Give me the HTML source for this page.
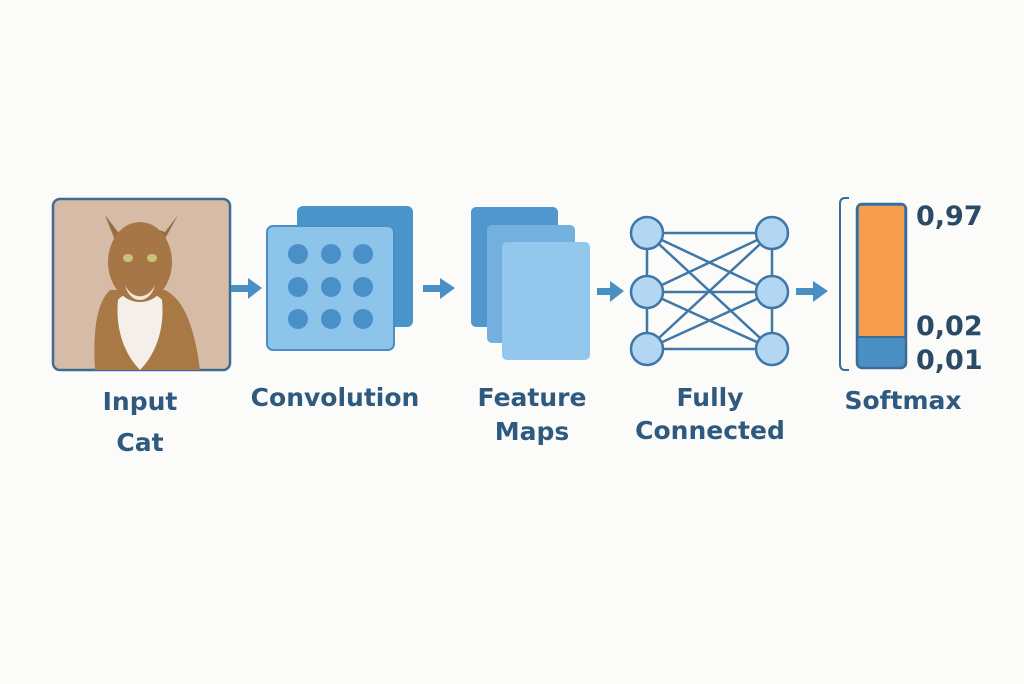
<!DOCTYPE html>
<html><head><style>
html,body{margin:0;padding:0;background:#fbfbf9;}
body{width:1024px;height:684px;position:relative;overflow:hidden;font-family:"DejaVu Sans","Liberation Sans",sans-serif;}
.l{position:absolute;color:#2f5a80;font-size:25px;font-weight:bold;text-align:center;line-height:34px;}
.n{position:absolute;color:#2b4a68;font-size:27px;font-weight:bold;}
</style></head><body>
<svg width="1024" height="684" style="position:absolute;left:0;top:0">
<rect x="53" y="199" width="177" height="171" rx="7" fill="#d6bca7" stroke="#3d6b94" stroke-width="2.5"/>
<g>
<path d="M95,370 C92,320 100,300 110,290 L120,290 L165,290 C185,300 195,330 200,370 Z" fill="#a87845"/>
<path d="M118,300 C125,290 155,290 162,300 C165,330 155,355 140,370 C125,355 115,330 118,300Z" fill="#f4efe8"/>
<path d="M105,215 L118,248 L160,248 L178,215 L165,232 C150,226 132,226 118,232 Z" fill="#9a6c40"/>
<ellipse cx="140" cy="262" rx="32" ry="40" fill="#a67646"/>
<path d="M125,285 C132,300 148,300 155,285 C150,305 130,305 125,285Z" fill="#efe7dc"/>
<ellipse cx="128" cy="258" rx="5" ry="4" fill="#c8c27a"/>
<ellipse cx="152" cy="258" rx="5" ry="4" fill="#c8c27a"/>
<path d="M137,270 L143,270 L140,274Z" fill="#b86a5a"/>
</g>
<g fill="#4a8fc4">
<rect x="231" y="285" width="18" height="7"/><polygon points="248,278 262,288 248,299"/>
<rect x="423" y="285" width="18" height="7"/><polygon points="440,278 455,288 440,299"/>
<rect x="597" y="288" width="14" height="7"/><polygon points="610,281 624,291 610,302"/>
<rect x="796" y="288" width="18" height="7"/><polygon points="813,281 828,291 813,302"/>
</g>
<rect x="297" y="206" width="116" height="121" rx="6" fill="#4a94cc"/>
<rect x="267" y="226" width="127" height="124" rx="6" fill="#8dc4e9" stroke="#4a8fc4" stroke-width="2"/>
<g fill="#4a90c8">
<circle cx="298" cy="254" r="10"/><circle cx="331" cy="254" r="10"/><circle cx="363" cy="254" r="10"/>
<circle cx="298" cy="287" r="10"/><circle cx="331" cy="287" r="10"/><circle cx="363" cy="287" r="10"/>
<circle cx="298" cy="319" r="10"/><circle cx="331" cy="319" r="10"/><circle cx="363" cy="319" r="10"/>
</g>
<rect x="471" y="207" width="87" height="120" rx="5" fill="#4f97cd"/>
<rect x="487" y="225" width="88" height="118" rx="5" fill="#73b0df"/>
<rect x="502" y="242" width="88" height="118" rx="5" fill="#93c7eb"/>
<g stroke="#3f77a8" stroke-width="2.5">
<line x1="647" y1="233" x2="772" y2="233"/><line x1="647" y1="292" x2="772" y2="292"/><line x1="647" y1="349" x2="772" y2="349"/>
<line x1="647" y1="233" x2="772" y2="292"/><line x1="647" y1="233" x2="772" y2="349"/>
<line x1="647" y1="292" x2="772" y2="233"/><line x1="647" y1="292" x2="772" y2="349"/>
<line x1="647" y1="349" x2="772" y2="233"/><line x1="647" y1="349" x2="772" y2="292"/>
<line x1="647" y1="233" x2="647" y2="349"/><line x1="772" y1="233" x2="772" y2="349"/>
</g>
<g fill="#b3d7f2" stroke="#3f77a8" stroke-width="2.5">
<circle cx="647" cy="233" r="16"/><circle cx="647" cy="292" r="16"/><circle cx="647" cy="349" r="16"/>
<circle cx="772" cy="233" r="16"/><circle cx="772" cy="292" r="16"/><circle cx="772" cy="349" r="16"/>
</g>
<path d="M849,198 L845,198 Q840,198 840,204 L840,364 Q840,370 845,370 L849,370" fill="none" stroke="#3d6b94" stroke-width="2"/>
<rect x="857" y="204" width="49" height="164" rx="5" fill="#4a8fc4"/>
<path d="M859,206 L904,206 L904,337 L859,337 Z" fill="#f69d4b"/>
<line x1="858" y1="337" x2="905" y2="337" stroke="#3d6b94" stroke-width="2"/>
<rect x="857" y="204" width="49" height="164" rx="5" fill="none" stroke="#3d6b94" stroke-width="2.5"/>
</svg>
<div class="n" style="left:916px;top:201px">0,97</div>
<div class="n" style="left:916px;top:311px">0,02</div>
<div class="n" style="left:916px;top:345px">0,01</div>
<div class="l" style="left:60px;width:160px;top:385px">Input</div>
<div class="l" style="left:60px;width:160px;top:426px">Cat</div>
<div class="l" style="left:225px;width:220px;top:381px">Convolution</div>
<div class="l" style="left:442px;width:180px;top:381px">Feature</div>
<div class="l" style="left:442px;width:180px;top:415px">Maps</div>
<div class="l" style="left:610px;width:200px;top:381px">Fully</div>
<div class="l" style="left:610px;width:200px;top:414px">Connected</div>
<div class="l" style="left:813px;width:180px;top:384px">Softmax</div>
</body></html>
